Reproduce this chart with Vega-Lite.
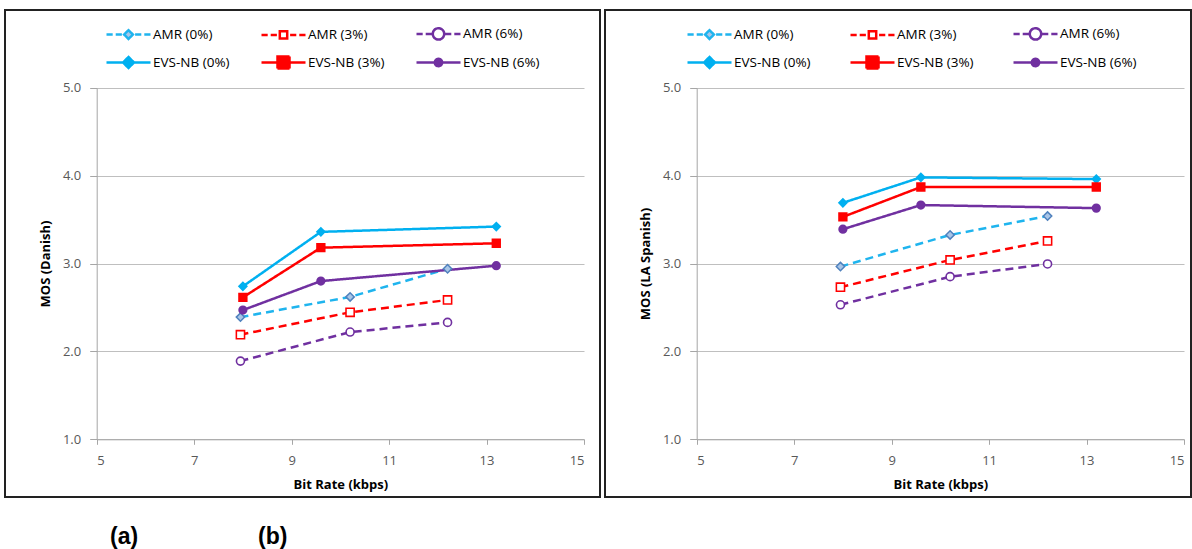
{
  "$schema": "https://vega.github.io/schema/vega-lite/v6.json",
  "padding": {"left": 4, "top": 9, "right": 0, "bottom": 0},
  "background": "white",
  "config": {
    "view": {"stroke": "#222222", "strokeWidth": 2},
    "font": "Open Sans",
    "axis": {
      "labelFont": "Open Sans", "labelFontSize": 13, "labelColor": "#595959",
      "titleFont": "Open Sans", "titleFontSize": 13, "titleFontWeight": "bold", "titleColor": "#000000",
      "domainColor": "#A6A6A6", "tickColor": "#A6A6A6", "gridColor": "#BFBFBF", "gridWidth": 1
    },
    "legend": {
      "title": null, "columns": 3, "direction": "horizontal",
      "symbolSize": 400, "symbolStrokeWidth": 2.5, "symbolOffset": 12,
      "labelFont": "Open Sans", "labelFontSize": 13.5, "labelColor": "#000000", "labelOffset": 13,
      "rowPadding": 6
    }
  },
  "datasets": {
    "danish": [
      {"series": "AMR (0%)", "rate": 7.95, "mos": 2.39},
      {"series": "AMR (0%)", "rate": 10.2, "mos": 2.62},
      {"series": "AMR (0%)", "rate": 12.2, "mos": 2.94},
      {"series": "AMR (3%)", "rate": 7.95, "mos": 2.19},
      {"series": "AMR (3%)", "rate": 10.2, "mos": 2.445},
      {"series": "AMR (3%)", "rate": 12.2, "mos": 2.585},
      {"series": "AMR (6%)", "rate": 7.95, "mos": 1.89},
      {"series": "AMR (6%)", "rate": 10.2, "mos": 2.22},
      {"series": "AMR (6%)", "rate": 12.2, "mos": 2.33},
      {"series": "EVS-NB (0%)", "rate": 8.0, "mos": 2.74},
      {"series": "EVS-NB (0%)", "rate": 9.6, "mos": 3.36},
      {"series": "EVS-NB (0%)", "rate": 13.2, "mos": 3.42},
      {"series": "EVS-NB (3%)", "rate": 8.0, "mos": 2.615},
      {"series": "EVS-NB (3%)", "rate": 9.6, "mos": 3.18},
      {"series": "EVS-NB (3%)", "rate": 13.2, "mos": 3.23},
      {"series": "EVS-NB (6%)", "rate": 8.0, "mos": 2.47},
      {"series": "EVS-NB (6%)", "rate": 9.6, "mos": 2.8},
      {"series": "EVS-NB (6%)", "rate": 13.2, "mos": 2.975}
    ],
    "spanish": [
      {"series": "AMR (0%)", "rate": 7.95, "mos": 2.965},
      {"series": "AMR (0%)", "rate": 10.2, "mos": 3.325},
      {"series": "AMR (0%)", "rate": 12.2, "mos": 3.54},
      {"series": "AMR (3%)", "rate": 7.95, "mos": 2.73},
      {"series": "AMR (3%)", "rate": 10.2, "mos": 3.04},
      {"series": "AMR (3%)", "rate": 12.2, "mos": 3.256},
      {"series": "AMR (6%)", "rate": 7.95, "mos": 2.53},
      {"series": "AMR (6%)", "rate": 10.2, "mos": 2.85},
      {"series": "AMR (6%)", "rate": 12.2, "mos": 2.995},
      {"series": "EVS-NB (0%)", "rate": 8.0, "mos": 3.69},
      {"series": "EVS-NB (0%)", "rate": 9.6, "mos": 3.98},
      {"series": "EVS-NB (0%)", "rate": 13.2, "mos": 3.96},
      {"series": "EVS-NB (3%)", "rate": 8.0, "mos": 3.53},
      {"series": "EVS-NB (3%)", "rate": 9.6, "mos": 3.87},
      {"series": "EVS-NB (3%)", "rate": 13.2, "mos": 3.87},
      {"series": "EVS-NB (6%)", "rate": 8.0, "mos": 3.39},
      {"series": "EVS-NB (6%)", "rate": 9.6, "mos": 3.665},
      {"series": "EVS-NB (6%)", "rate": 13.2, "mos": 3.63}
    ]
  },
  "spacing": 5,
  "bounds": "flush",
  "resolve": {"legend": {"color": "independent"}},
  "hconcat": [
    {
      "width": 595,
      "height": 487,
      "data": {"name": "danish"},
      "title": {"text": "(a)", "orient": "bottom", "anchor": "start", "frame": "group", "dx": 105, "offset": 29, "font": "Liberation Sans", "fontSize": 23, "fontWeight": "bold", "color": "#000000"},
      "encoding": {
        "x": {"field": "rate", "type": "quantitative",
          "scale": {"domain": [5, 15], "range": [91.7, 579], "nice": false, "zero": false},
          "axis": {"title": "Bit Rate (kbps)", "values": [5, 7, 9, 11, 13, 15], "offset": -57.7, "grid": false, "tickSize": 5, "labelPadding": 10, "titlePadding": 11}},
        "y": {"field": "mos", "type": "quantitative",
          "scale": {"domain": [1, 5], "range": [429.3, 77.7], "nice": false, "zero": false},
          "axis": {"title": "MOS (Danish)", "values": [1, 2, 3, 4, 5], "format": ".1f", "offset": -91.7, "grid": true, "tickSize": 7, "labelPadding": 9, "titlePadding": 10}}
      },
      "layer": [
        {
          "mark": {"type": "line", "strokeWidth": 2.5, "strokeCap": "butt", "strokeJoin": "round"},
          "encoding": {
            "color": {"field": "series", "type": "nominal",
              "scale": {"domain": ["AMR (0%)", "AMR (3%)", "AMR (6%)", "EVS-NB (0%)", "EVS-NB (3%)", "EVS-NB (6%)"],
                        "range": ["#1FB4EE", "#FF0000", "#7030A0", "#00B0F0", "#FF0000", "#7030A0"]},
              "legend": {
                "orient": "none", "legendX": 100, "legendY": 12, "columnPadding": 26,
                "encode": {"symbols": {"update": {
                  "strokeDash": {"value": [1, 0]},
                  "shape": {"signal": "datum.value === 'AMR (0%)' ? 'M-2.2,0H-1.58M-1.28,0H-0.66M0.66,0H1.28M1.58,0H2.2M0,-0.44L0.44,0L0,0.44L-0.44,0Z' : datum.value === 'AMR (3%)' ? 'M-2.2,0H-1.58M-1.28,0H-0.66M0.66,0H1.28M1.58,0H2.2M-0.37,-0.37H0.37V0.37H-0.37Z' : datum.value === 'AMR (6%)' ? 'M-2.2,0H-1.58M-1.28,0H-0.66M0.66,0H1.28M1.58,0H2.2M-0.57,0A0.57,0.57,0,1,0,0.57,0A0.57,0.57,0,1,0,-0.57,0Z' : datum.value === 'EVS-NB (0%)' ? 'M-2.2,0H2.2M0,-0.55L0.55,0L0,0.55L-0.55,0Z' : datum.value === 'EVS-NB (3%)' ? 'M-2.2,0H2.2M-0.6,-0.6H0.6V0.6H-0.6Z' : 'M-2.2,0H2.2M-0.37,0A0.37,0.37,0,1,0,0.37,0A0.37,0.37,0,1,0,-0.37,0Z'"},
                  "fill": {"signal": "datum.value === 'AMR (0%)' ? '#A9C6E8' : datum.value === 'AMR (3%)' ? '#FFFFFF' : datum.value === 'AMR (6%)' ? '#FFFFFF' : datum.value === 'EVS-NB (0%)' ? '#00B0F0' : datum.value === 'EVS-NB (3%)' ? '#FF0000' : '#7030A0'"},
                  "opacity": {"value": 1}
                }}}
              }},
            "strokeDash": {"field": "series", "type": "nominal",
              "scale": {"domain": ["AMR (0%)", "AMR (3%)", "AMR (6%)", "EVS-NB (0%)", "EVS-NB (3%)", "EVS-NB (6%)"],
                        "range": [[8, 5], [8, 5], [8, 5], [1, 0], [1, 0], [1, 0]]},
              "legend": null}
          }
        },
        {
          "mark": {"type": "point", "filled": false, "opacity": 1},
          "encoding": {
            "shape": {"field": "series", "type": "nominal",
              "scale": {"domain": ["AMR (0%)", "AMR (3%)", "AMR (6%)", "EVS-NB (0%)", "EVS-NB (3%)", "EVS-NB (6%)"],
                        "range": ["diamond", "square", "circle", "diamond", "square", "circle"]}, "legend": null},
            "size": {"field": "series", "type": "nominal",
              "scale": {"domain": ["AMR (0%)", "AMR (3%)", "AMR (6%)", "EVS-NB (0%)", "EVS-NB (3%)", "EVS-NB (6%)"],
                        "range": [70, 55, 115, 120, 170, 55]}, "legend": null},
            "fill": {"field": "series", "type": "nominal",
              "scale": {"domain": ["AMR (0%)", "AMR (3%)", "AMR (6%)", "EVS-NB (0%)", "EVS-NB (3%)", "EVS-NB (6%)"],
                        "range": ["#A9C6E8", "#FFFFFF", "#FFFFFF", "#00B0F0", "#FF0000", "#7030A0"]}, "legend": null},
            "stroke": {"field": "series", "type": "nominal",
              "scale": {"domain": ["AMR (0%)", "AMR (3%)", "AMR (6%)", "EVS-NB (0%)", "EVS-NB (3%)", "EVS-NB (6%)"],
                        "range": ["#4F81BD", "#FF0000", "#7030A0", "#00B0F0", "#FF0000", "#7030A0"]}, "legend": null},
            "strokeWidth": {"field": "series", "type": "nominal",
              "scale": {"domain": ["AMR (0%)", "AMR (3%)", "AMR (6%)", "EVS-NB (0%)", "EVS-NB (3%)", "EVS-NB (6%)"],
                        "range": [1.5, 1.8, 2, 1, 1, 1]}, "legend": null}
          }
        }
      ]
    },
    {
      "width": 586,
      "height": 487,
      "data": {"name": "spanish"},
      "title": {"text": "(b)", "orient": "bottom", "anchor": "start", "frame": "group", "dx": -347, "offset": 29, "font": "Liberation Sans", "fontSize": 23, "fontWeight": "bold", "color": "#000000"},
      "encoding": {
        "x": {"field": "rate", "type": "quantitative",
          "scale": {"domain": [5, 15], "range": [91.7, 579], "nice": false, "zero": false},
          "axis": {"title": "Bit Rate (kbps)", "values": [5, 7, 9, 11, 13, 15], "offset": -57.7, "grid": false, "tickSize": 5, "labelPadding": 10, "titlePadding": 11}},
        "y": {"field": "mos", "type": "quantitative",
          "scale": {"domain": [1, 5], "range": [429.3, 77.7], "nice": false, "zero": false},
          "axis": {"title": "MOS (LA Spanish)", "values": [1, 2, 3, 4, 5], "format": ".1f", "offset": -91.7, "grid": true, "tickSize": 7, "labelPadding": 9, "titlePadding": 10}}
      },
      "layer": [
        {
          "mark": {"type": "line", "strokeWidth": 2.5, "strokeCap": "butt", "strokeJoin": "round"},
          "encoding": {
            "color": {"field": "series", "type": "nominal",
              "scale": {"domain": ["AMR (0%)", "AMR (3%)", "AMR (6%)", "EVS-NB (0%)", "EVS-NB (3%)", "EVS-NB (6%)"],
                        "range": ["#1FB4EE", "#FF0000", "#7030A0", "#00B0F0", "#FF0000", "#7030A0"]},
              "legend": {
                "orient": "none", "legendX": 81, "legendY": 12, "columnPadding": 34,
                "encode": {"symbols": {"update": {
                  "strokeDash": {"value": [1, 0]},
                  "shape": {"signal": "datum.value === 'AMR (0%)' ? 'M-2.2,0H-1.58M-1.28,0H-0.66M0.66,0H1.28M1.58,0H2.2M0,-0.44L0.44,0L0,0.44L-0.44,0Z' : datum.value === 'AMR (3%)' ? 'M-2.2,0H-1.58M-1.28,0H-0.66M0.66,0H1.28M1.58,0H2.2M-0.37,-0.37H0.37V0.37H-0.37Z' : datum.value === 'AMR (6%)' ? 'M-2.2,0H-1.58M-1.28,0H-0.66M0.66,0H1.28M1.58,0H2.2M-0.57,0A0.57,0.57,0,1,0,0.57,0A0.57,0.57,0,1,0,-0.57,0Z' : datum.value === 'EVS-NB (0%)' ? 'M-2.2,0H2.2M0,-0.55L0.55,0L0,0.55L-0.55,0Z' : datum.value === 'EVS-NB (3%)' ? 'M-2.2,0H2.2M-0.6,-0.6H0.6V0.6H-0.6Z' : 'M-2.2,0H2.2M-0.37,0A0.37,0.37,0,1,0,0.37,0A0.37,0.37,0,1,0,-0.37,0Z'"},
                  "fill": {"signal": "datum.value === 'AMR (0%)' ? '#A9C6E8' : datum.value === 'AMR (3%)' ? '#FFFFFF' : datum.value === 'AMR (6%)' ? '#FFFFFF' : datum.value === 'EVS-NB (0%)' ? '#00B0F0' : datum.value === 'EVS-NB (3%)' ? '#FF0000' : '#7030A0'"},
                  "opacity": {"value": 1}
                }}}
              }},
            "strokeDash": {"field": "series", "type": "nominal",
              "scale": {"domain": ["AMR (0%)", "AMR (3%)", "AMR (6%)", "EVS-NB (0%)", "EVS-NB (3%)", "EVS-NB (6%)"],
                        "range": [[8, 5], [8, 5], [8, 5], [1, 0], [1, 0], [1, 0]]},
              "legend": null}
          }
        },
        {
          "mark": {"type": "point", "filled": false, "opacity": 1},
          "encoding": {
            "shape": {"field": "series", "type": "nominal",
              "scale": {"domain": ["AMR (0%)", "AMR (3%)", "AMR (6%)", "EVS-NB (0%)", "EVS-NB (3%)", "EVS-NB (6%)"],
                        "range": ["diamond", "square", "circle", "diamond", "square", "circle"]}, "legend": null},
            "size": {"field": "series", "type": "nominal",
              "scale": {"domain": ["AMR (0%)", "AMR (3%)", "AMR (6%)", "EVS-NB (0%)", "EVS-NB (3%)", "EVS-NB (6%)"],
                        "range": [70, 55, 115, 120, 170, 55]}, "legend": null},
            "fill": {"field": "series", "type": "nominal",
              "scale": {"domain": ["AMR (0%)", "AMR (3%)", "AMR (6%)", "EVS-NB (0%)", "EVS-NB (3%)", "EVS-NB (6%)"],
                        "range": ["#A9C6E8", "#FFFFFF", "#FFFFFF", "#00B0F0", "#FF0000", "#7030A0"]}, "legend": null},
            "stroke": {"field": "series", "type": "nominal",
              "scale": {"domain": ["AMR (0%)", "AMR (3%)", "AMR (6%)", "EVS-NB (0%)", "EVS-NB (3%)", "EVS-NB (6%)"],
                        "range": ["#4F81BD", "#FF0000", "#7030A0", "#00B0F0", "#FF0000", "#7030A0"]}, "legend": null},
            "strokeWidth": {"field": "series", "type": "nominal",
              "scale": {"domain": ["AMR (0%)", "AMR (3%)", "AMR (6%)", "EVS-NB (0%)", "EVS-NB (3%)", "EVS-NB (6%)"],
                        "range": [1.5, 1.8, 2, 1, 1, 1]}, "legend": null}
          }
        }
      ]
    }
  ]
}
